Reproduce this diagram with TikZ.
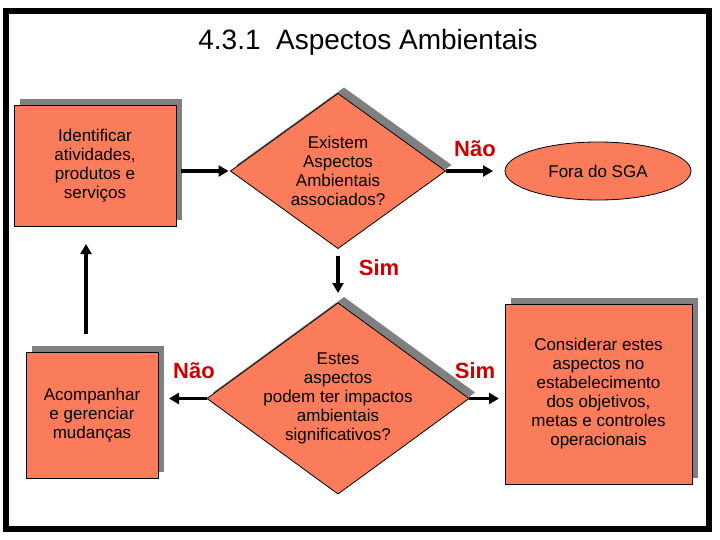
\documentclass[tikz,border=0pt]{standalone}
\usepackage{fontspec}
\setmainfont{Liberation Sans}
\usetikzlibrary{shapes.geometric,shadows,arrows.meta,calc}
\definecolor{salmon}{RGB}{250,124,90}
\definecolor{shd}{RGB}{128,128,128}
\definecolor{lbl}{RGB}{204,0,0}
\begin{document}
\begin{tikzpicture}[x=1pt,y=-1pt,
  shbox/.style={draw=black, line width=0.8pt, fill=salmon, inner sep=0pt, outer sep=0pt,
    drop shadow={shadow xshift=6pt, shadow yshift=6pt, fill=shd, opacity=1},
    align=center, font=\fontsize{17}{19}\selectfont},
  dia/.style={shape=diamond, draw=black, line width=0.8pt, fill=salmon, inner sep=0pt, outer sep=0pt,
    drop shadow={shadow xshift=6pt, shadow yshift=6pt, fill=shd, opacity=1}},
  oval/.style={shape=ellipse, draw=black, line width=0.8pt, fill=salmon, inner sep=0pt, outer sep=0pt,
    align=center, font=\fontsize{17}{19}\selectfont},
  txt/.style={align=center, font=\fontsize{17}{19}\selectfont, inner sep=0pt},
  lab/.style={text=lbl, font=\fontsize{22}{26}\selectfont\bfseries, inner sep=0pt},
  arr/.style={line width=3.5pt, -{Triangle[length=10pt,width=11pt]}}
]
\useasboundingbox (0,0) rectangle (720,540);
\draw[line width=6pt] (6,11) rectangle (709,529);
\node[font=\fontsize{28}{32}\selectfont, inner sep=0pt] (title) at (368,42) {4.3.1\ \ Aspectos Ambientais};

\node[shbox, minimum width=162pt, minimum height=121pt] (b1) at (95,165.5)
  {Identificar\\atividades,\\produtos e\\serviços};
\node[dia, minimum width=215pt, minimum height=155pt] (d1) at (338,171) {};
\node[txt] (t1) at (d1) {Existem\\Aspectos\\Ambientais\\associados?};
\node[oval, minimum width=186pt, minimum height=58pt] (e1) at (598,171) {Fora do SGA};

\node[dia, minimum width=262pt, minimum height=191pt] (d2) at (338,398.5) {};
\node[txt] (t2) at (d2) {Estes\\aspectos\\podem ter impactos\\ambientais\\significativos?};
\node[shbox, minimum width=187pt, minimum height=180pt] (b3) at (598.5,394)
  {Considerar estes\\aspectos no\\estabelecimento\\dos objetivos,\\metas e controles\\operacionais};
\node[shbox, minimum width=132pt, minimum height=126pt] (b2) at (92,415)
  {Acompanhar\\e gerenciar\\mudanças};

\draw[arr, shorten <=5pt, shorten >=2pt] (b1.east |- d1.west) -- (d1.west);
\draw[arr, shorten >=12pt] (d1.east) -- (e1.west);
\draw[arr, shorten <=7pt, shorten >=10pt] (d1.south) -- (d2.north);
\draw[arr, shorten >=6pt] (d2.east) -- (d2.east -| b3.west);
\draw[arr, shorten >=11pt] (d2.west) -- (d2.west -| b2.east);
\coordinate (up0) at ($(b2.north)+(-6,-18)$);
\coordinate (up1) at ($(up0 |- b1.south)+(0,18)$);
\draw[arr] (up0) -- (up1);

\node[lab] (n1) at (475,149) {Não};
\node[lab] (s1) at (379,268) {Sim};
\node[lab] (s2) at (475,371) {Sim};
\node[lab] (n2) at (194,371) {Não};
\end{tikzpicture}
\end{document}
